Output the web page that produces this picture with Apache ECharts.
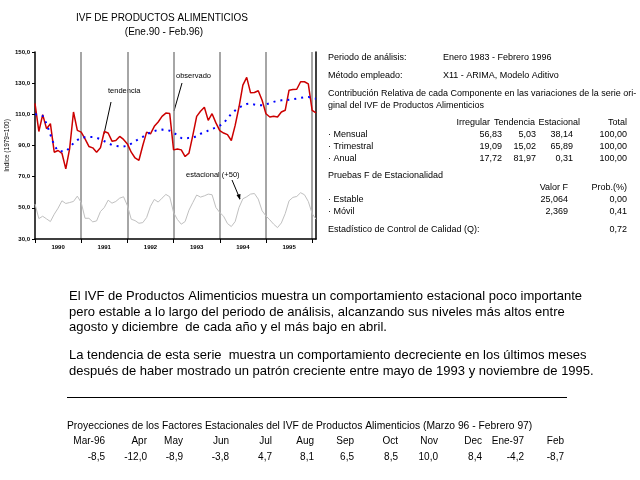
<!DOCTYPE html>
<html><head><meta charset="utf-8">
<script src="https://cdn.jsdelivr.net/npm/echarts@6/dist/echarts.min.js"></script>
<style>html,body{margin:0;padding:0;background:#fff;}#c{width:640px;height:480px;}</style>
</head><body><div id="c"></div>
<script>
// ---- data ----
const years = ['1990','1991','1992','1993','1994','1995','1996'];
const monthNames = ['Ene','Feb','Mar','Abr','May','Jun','Jul','Ago','Sep','Oct','Nov','Dic'];
const nMonths = 74; // Ene.90 - Feb.96
const categories = [];
for (let y = 0; y < years.length; y++) for (let m = 0; m < 12; m++) {
  if (categories.length < nMonths) categories.push(monthNames[m] + '-' + years[y].slice(2));
}
const observed = [
 117.0, 99.0, 109.8, 100.8, 104.0, 85.7, 86.8, 85.0, 75.0, 88.0, 111.5, 99.7,
 98.6, 94.3, 89.4, 88.5, 85.7, 88.5, 99.0, 98.0, 92.8, 93.2, 95.8, 93.9,
 91.0, 85.7, 82.0, 80.5, 90.0, 98.6, 97.5, 102.3, 105.1, 108.7, 110.8, 110.5,
 87.2, 87.8, 87.2, 82.9, 85.1, 96.5, 108.7, 112.0, 114.5, 106.1, 110.4, 104.5,
 99.5, 98.0, 97.0, 93.2, 102.9, 114.7, 128.7, 133.7, 123.8, 124.0, 125.1, 119.0,
 110.4, 108.3, 108.7, 108.3, 111.5, 112.6, 125.5, 125.9, 126.1, 130.9, 130.9, 129.5,
 112.6, 110.9];
const trend = [
 110.0, 109.8, 109.0, 104.0, 97.0, 90.0, 86.5, 86.3, 86.3, 88.5, 91.5, 93.5,
 95.0, 95.3, 95.4, 95.4, 95.0, 94.0, 92.8, 91.5, 90.3, 89.8, 89.5, 89.4,
 89.8, 91.2, 92.8, 94.2, 95.6, 97.1, 98.4, 99.3, 100.0, 100.2, 100.1, 99.5,
 98.3, 96.5, 94.8, 94.4, 94.9, 95.0, 96.0, 97.5, 98.4, 99.6, 100.6, 101.6,
 102.8, 104.2, 107.5, 110.2, 112.5, 114.2, 115.6, 116.6, 116.9, 116.3, 115.8, 115.8,
 116.3, 117.2, 118.0, 118.7, 119.0, 119.1, 119.4, 119.7, 120.1, 120.6, 121.0, 121.2,
 120.3, 120.0];
const seasonal50 = [
 52.5, 43.1, 44.6, 42.9, 41.2, 45.9, 49.8, 54.5, 52.8, 53.4, 54.1, 57.5,
 53.4, 43.3, 43.3, 41.0, 41.6, 47.6, 50.2, 54.9, 53.0, 54.1, 56.2, 57.1,
 51.5, 42.7, 41.8, 40.1, 40.5, 43.8, 51.0, 55.4, 53.7, 56.2, 58.6, 57.1,
 47.0, 42.5, 39.5, 41.2, 48.5, 53.4, 58.2, 56.9, 57.7, 58.8, 58.4, 50.2,
 47.0, 44.6, 39.9, 38.0, 41.2, 50.2, 55.8, 57.1, 58.8, 59.2, 55.6, 48.1,
 44.8, 42.3, 39.5, 37.3, 40.3, 46.3, 54.5, 56.7, 57.3, 59.7, 58.4, 54.1,
 46.3, 42.7];

// table data
const infoRows = [['Periodo de análisis:', 'Enero 1983 - Febrero 1996'], ['Método empleado:', 'X11 - ARIMA, Modelo Aditivo']];
const contribText = ['Contribución Relativa de cada Componente en las variaciones de la serie ori-', 'ginal del IVF de Productos Alimenticios'];
const contribHeaders = ['Irregular', 'Tendencia', 'Estacional', 'Total'];
const contribRows = [
  ['· Mensual', '56,83', '5,03', '38,14', '100,00'],
  ['· Trimestral', '19,09', '15,02', '65,89', '100,00'],
  ['· Anual', '17,72', '81,97', '0,31', '100,00']];
const fTitle = 'Pruebas F de Estacionalidad';
const fHeaders = ['Valor F', 'Prob.(%)'];
const fRows = [['· Estable', '25,064', '0,00'], ['· Móvil', '2,369', '0,41']];
const qRow = ['Estadístico de Control de Calidad (Q):', '0,72'];
const paragraph = [
 'El IVF de Productos Alimenticios muestra un comportamiento estacional poco importante',
 'pero estable a lo largo del periodo de análisis, alcanzando sus niveles más altos entre',
 'agosto y diciembre  de cada año y el más bajo en abril.',
 '',
 'La tendencia de esta serie  muestra un comportamiento decreciente en los últimos meses',
 'después de haber mostrado un patrón creciente entre mayo de 1993 y noviembre de 1995.'];
const projTitle = 'Proyecciones de los Factores Estacionales del IVF de Productos Alimenticios (Marzo 96 - Febrero 97)';
const projMonths = ['Mar-96','Apr','May','Jun','Jul','Aug','Sep','Oct','Nov','Dec','Ene-97','Feb'];
const projValues = ['-8,5','-12,0','-8,9','-3,8','4,7','8,1','6,5','8,5','10,0','8,4','-4,2','-8,7'];

// ---- layout ----
const FF = '"Liberation Sans", Arial, sans-serif';
const g = [];
function txt(s, x, y, size, align, extra) {
  g.push(Object.assign({type:'text', silent:true, style:{text:s, x:x, y:y, fill:'#000',
    font: size + 'px ' + FF, textAlign: align || 'left', align: align || 'left',
    textVerticalAlign:'middle', verticalAlign:'middle'}}, extra || {}));
}
function line(x1,y1,x2,y2,w){ g.push({type:'line', silent:true, shape:{x1,y1,x2,y2}, style:{stroke:'#000', lineWidth:w||1}}); }

txt('IVF DE PRODUCTOS ALIMENTICIOS', 162, 18, 10, 'center');
txt('(Ene.90 - Feb.96)', 164, 32, 10, 'center');

// annotations
txt('tendencia', 108, 91, 7.5);
line(111, 102, 104, 134, 1);
txt('observado', 176, 76, 7.5);
line(182, 83, 174, 111, 1);
txt('estacional (+50)', 186, 175, 7.5);
line(232, 180, 240, 199, 1);
g.push({type:'polygon', silent:true, shape:{points:[[240,200],[236.5,195],[240.5,194]]}, style:{fill:'#000'}});

// right panel
const RS = 9;
infoRows.forEach((r,i)=>{ txt(r[0], 328, 58 + i*18, RS); txt(r[1], 443, 58 + i*18, RS); });
contribText.forEach((t,i)=> txt(t, 328, 94 + i*11.5, RS));
const headX = [490, 535, 580, 627];
const colX = [502, 536, 573, 627];
contribHeaders.forEach((h,i)=> txt(h, headX[i], 123, RS, 'right'));
contribRows.forEach((r,i)=>{ const y = 135 + i*11.7; txt(r[0], 328, y, RS); for (let k=1;k<5;k++) txt(r[k], colX[k-1], y, RS, 'right'); });
txt(fTitle, 328, 176, RS);
const fX = [568, 627];
fHeaders.forEach((h,i)=> txt(h, fX[i], 188, RS, 'right'));
fRows.forEach((r,i)=>{ const y = 200 + i*11.7; txt(r[0], 328, y, RS); txt(r[1], fX[0], y, RS, 'right'); txt(r[2], fX[1], y, RS, 'right'); });
txt(qRow[0], 328, 230, RS); txt(qRow[1], 627, 230, RS, 'right');

// paragraph
const pY = [296, 312, 327, 0, 355, 371];
paragraph.forEach((t,i)=>{ if (t) txt(t, 69, pY[i], 13); });
line(67, 397.5, 567, 397.5, 1);

// projections
txt(projTitle, 67, 426, 10.3);
const projX = [105, 147, 183, 229, 272, 314, 354, 398, 438, 482, 524, 564];
projMonths.forEach((m,i)=> txt(m, projX[i], 441, 10, 'right'));
projValues.forEach((v,i)=> txt(v, projX[i], 457, 10, 'right'));

const chart = echarts.init(document.getElementById('c'), null, {renderer:'canvas'});
chart.setOption({
  animation:false,
  backgroundColor:'#fff',
  grid:{left:35, top:52, width:281, height:187},
  xAxis:{type:'category', data:categories, boundaryGap:false,
    axisLine:{lineStyle:{color:'#000', width:1.5}},
    axisTick:{show:true, interval:(i)=> i%12===0, length:4, lineStyle:{color:'#000'}},
    axisLabel:{interval:(i)=> i%12===6, formatter:(v,i)=> years[Math.floor(i/12)], fontSize:6, fontWeight:'bold', fontFamily:FF, color:'#000', margin:5},
    splitLine:{show:true, interval:(i)=> i%12===0 && i>0, lineStyle:{color:'#888', width:1.5}}},
  yAxis:[{type:'value', min:30, max:150, interval:20,
    name:'Indice (1979=100)', nameLocation:'middle', nameRotate:90, nameGap:18,
    nameTextStyle:{fontSize:6.5, fontFamily:FF, color:'#000'},
    axisLine:{show:true, lineStyle:{color:'#000', width:1.5}},
    axisTick:{show:true, length:3, lineStyle:{color:'#000'}},
    axisLabel:{formatter:(v)=> v.toFixed(1).replace('.', ','), fontSize:6, fontWeight:'bold', fontFamily:FF, color:'#000', margin:5},
    splitLine:{show:false}},
   {type:'value', min:30, max:150, interval:20, position:'right',
    axisLine:{show:true, lineStyle:{color:'#000', width:1.5}}, axisTick:{show:false}, axisLabel:{show:false}, splitLine:{show:false}}],
  series:[
    {name:'estacional (+50)', type:'line', data:seasonal50, symbol:'none', lineStyle:{color:'#c0c0c0', width:1}},
    {name:'observado', type:'line', data:observed, symbol:'none', lineStyle:{color:'#cc0000', width:1.5}},
    {name:'tendencia', type:'line', data:trend, symbol:'none', lineStyle:{color:'#0000ff', width:2, type:[2,5]}}
  ],
  graphic:g
});
</script></body></html>
